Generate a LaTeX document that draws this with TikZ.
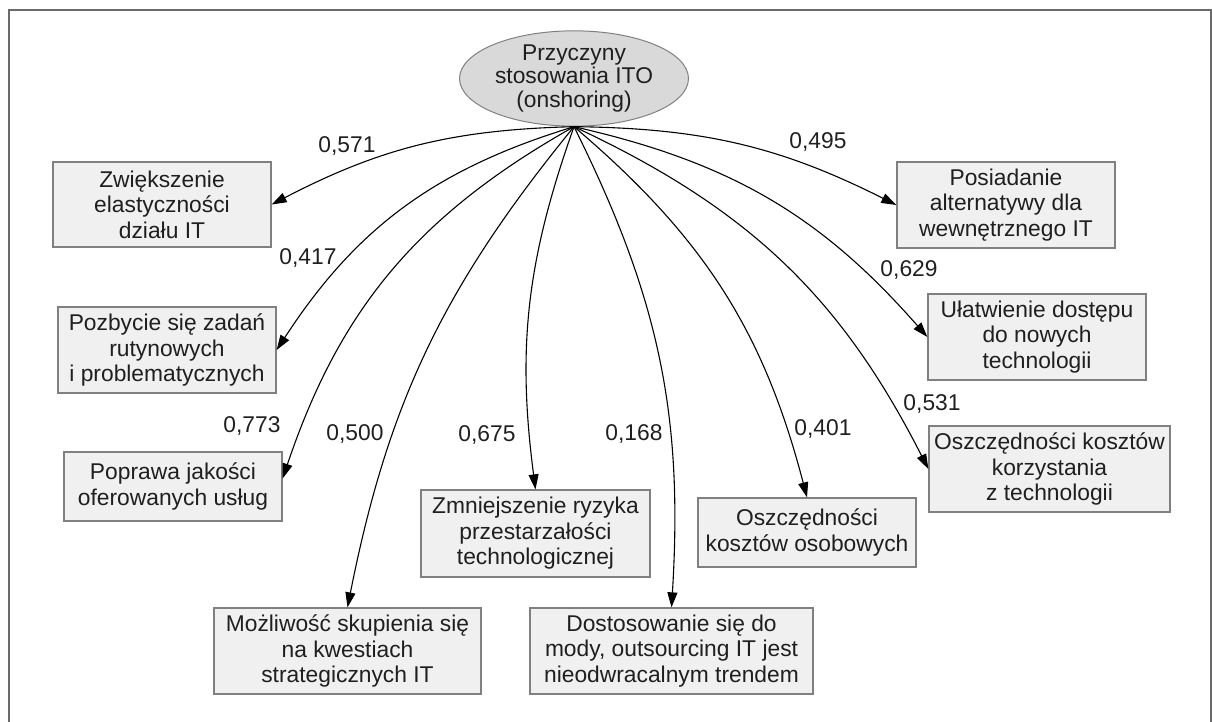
\documentclass[tikz,border=0pt]{standalone}
\usepackage{fontspec}
\setmainfont{Liberation Sans}
\usetikzlibrary{shapes.geometric,arrows.meta}
\definecolor{boxfill}{HTML}{F0F0F0}
\definecolor{boxline}{HTML}{808080}
\definecolor{ovalfill}{HTML}{D9D9D9}
\definecolor{framecol}{HTML}{6A6A6A}
\begin{document}
\begin{tikzpicture}[x=1pt,y=-1pt,
  every node/.style={font=\fontsize{22.8}{25.5}\selectfont, text=black!88},
  reason/.style={draw=boxline, fill=boxfill, line width=1.3pt, align=center, inner sep=0pt},
  factor/.style={ellipse, draw=boxline, fill=ovalfill, line width=1pt, align=center,
    minimum width=229pt, minimum height=87pt, inner sep=0pt,
    font=\fontsize{22.8}{23.5}\selectfont},
  load/.style={-{Triangle[length=15pt,width=10pt]}, line width=1.1pt, black},
  coef/.style={inner sep=0pt}
]
\useasboundingbox (0,0) rectangle (1212,722);
\begin{scope}
  \clip (0,0) rectangle (1212,722);
  \draw[framecol, line width=2.5pt] (9,760) -- (9,10) -- (1211,10) -- (1211,760);
\end{scope}

% latent factor
\node[factor] (f) at (574,78.5) {Przyczyny\\stosowania ITO\\(onshoring)};

% observed reasons
\node[reason, minimum width=218pt, minimum height=85pt] (b1) at (162,204.5) {Zwiększenie\\elastyczności\\działu IT};
\node[reason, minimum width=218pt, minimum height=86pt] (b2) at (167,350) {Pozbycie się zadań\\rutynowych\\i problematycznych};
\node[reason, minimum width=218pt, minimum height=69pt] (b3) at (173,486.5) {Poprawa jakości\\oferowanych usług};
\node[reason, minimum width=267pt, minimum height=86pt] (b4) at (347.5,651) {Możliwość skupienia się\\na kwestiach\\strategicznych IT};
\node[reason, minimum width=229pt, minimum height=87pt] (b5) at (535.5,533.5) {Zmniejszenie ryzyka\\przestarzałości\\technologicznej};
\node[reason, minimum width=283pt, minimum height=86pt] (b6) at (671.5,651) {Dostosowanie się do\\mody, outsourcing IT jest\\nieodwracalnym trendem};
\node[reason, minimum width=218pt, minimum height=69pt] (b7) at (807,532.5) {Oszczędności\\kosztów osobowych};
\node[reason, minimum width=241pt, minimum height=86pt] (b8) at (1049.5,469) {Oszczędności kosztów\\korzystania\\z technologii};
\node[reason, minimum width=218pt, minimum height=86pt] (b9) at (1037,337) {Ułatwienie dostępu\\do nowych\\technologii};
\node[reason, minimum width=218pt, minimum height=86pt] (b10) at (1006,205) {Posiadanie\\alternatywy dla\\wewnętrznego IT};

% loadings
\draw[load] (f.south) to[bend right=13] (b1.east);
\draw[load] (f.south) to[bend right=20] (b2.east);
\draw[load] (f.south) to[bend right=21] ([yshift=8pt]b3.east);
\draw[load] (f.south) to[bend right=14] (b4.north);
\draw[load] (f.south) to[bend right=13.5] (b5.north);
\draw[load] (f.south) to[bend left=15] (b6.north);
\draw[load] (f.south) to[bend left=17.5] (b7.north);
\draw[load] (f.south) to[bend left=19] (b8.west);
\draw[load] (f.south) to[bend left=18] (b9.west);
\draw[load] (f.south) to[bend left=13] (b10.west);

% coefficient labels
\node[coef] (c1) at (347,146) {0,571};
\node[coef] (c2) at (308,258) {0,417};
\node[coef] (c3) at (252,426) {0,773};
\node[coef] (c4) at (355,434) {0,500};
\node[coef] (c5) at (487,435) {0,675};
\node[coef] (c6) at (634,434) {0,168};
\node[coef] (c7) at (823,429) {0,401};
\node[coef] (c8) at (932,404) {0,531};
\node[coef] (c9) at (909,270) {0,629};
\node[coef] (c10) at (818,142) {0,495};
\end{tikzpicture}
\end{document}
